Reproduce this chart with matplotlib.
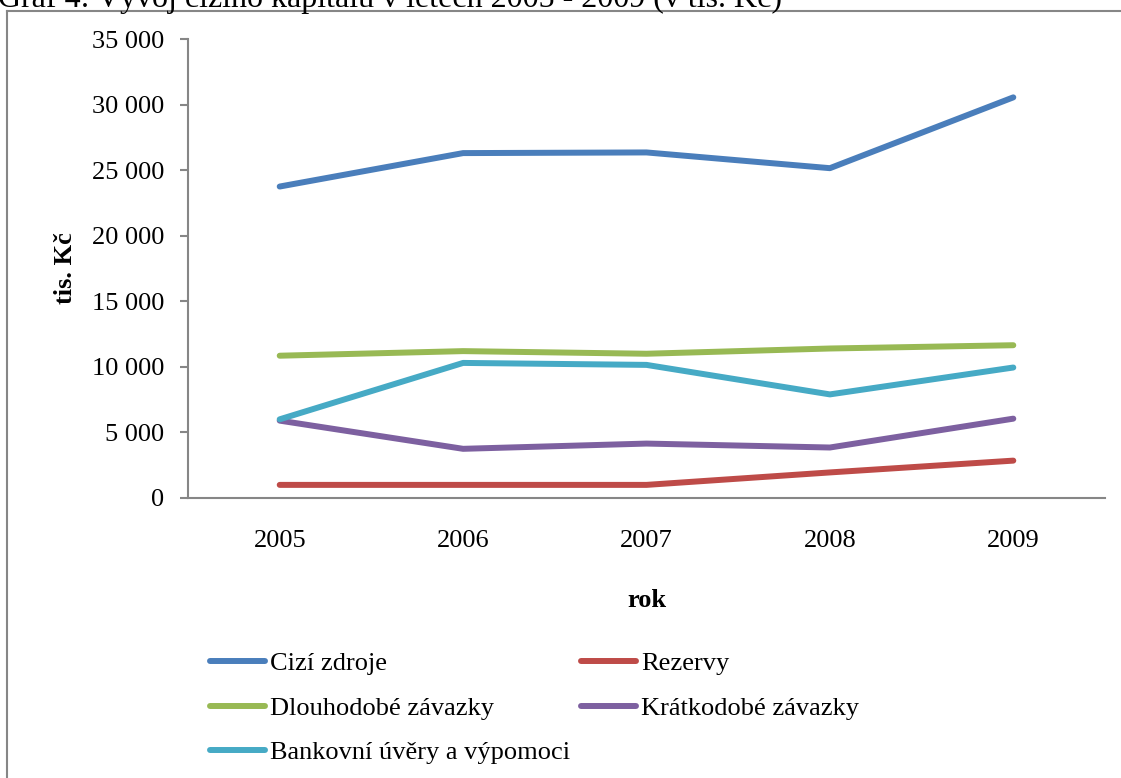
import matplotlib
matplotlib.use("Agg")
import matplotlib.pyplot as plt
from matplotlib.lines import Line2D
from matplotlib.ticker import FuncFormatter

plt.rcParams['font.family'] = ['Liberation Serif', 'DejaVu Serif']

# hodnoty v tis. Kč
roky = ['2005', '2006', '2007', '2008', '2009']
cizi_zdroje = [23750, 26300, 26350, 25150, 30550]
rezervy = [1000, 1000, 1000, 1950, 2850]
dlouhodobe = [10850, 11200, 11000, 11400, 11650]
kratkodobe = [5900, 3750, 4150, 3850, 6050]
bankovni = [6000, 10300, 10150, 7900, 9950]

W, H = 1121, 778
fig = plt.figure(figsize=(W / 100, H / 100), dpi=100)
ax = fig.add_axes([188 / W, 1 - 498 / H, (1105 - 188) / W, (498 - 39) / H])

x = range(len(roky))
lw = 4.3
styl = dict(lw=lw, solid_capstyle='round', solid_joinstyle='round')
h1, = ax.plot(x, cizi_zdroje, color='#4A7EBB', **styl)
h2, = ax.plot(x, rezervy, color='#BE4B48', **styl)
h3, = ax.plot(x, dlouhodobe, color='#98B954', **styl)
h4, = ax.plot(x, kratkodobe, color='#7D60A0', **styl)
h5, = ax.plot(x, bankovni, color='#46AAC5', **styl)

ax.set_xlim(-0.5, len(roky) - 0.5)
ax.set_ylim(0, 35000)
ax.set_yticks(range(0, 35001, 5000))
ax.yaxis.set_major_formatter(FuncFormatter(lambda v, p: f"{int(v):,}".replace(',', ' ')))
ax.set_xticks(list(x))
ax.set_xticklabels(roky)

for s in ['top', 'right']:
    ax.spines[s].set_visible(False)
for s in ['left', 'bottom']:
    ax.spines[s].set_color('#868686')
    ax.spines[s].set_linewidth(1.5)
ax.tick_params(axis='y', length=6, width=1.5, color='#868686', pad=11, labelsize=19)
ax.tick_params(axis='x', length=0, pad=23, labelsize=19)

ax.set_xlabel('rok', fontsize=19, fontweight='bold', labelpad=27)
ax.set_ylabel('tis. Kč', fontsize=19, fontweight='bold', labelpad=11)

leg = fig.legend([h1, h3, h5, h2, h4],
                 ['Cizí zdroje', 'Dlouhodobé závazky', 'Bankovní úvěry a výpomoci',
                  'Rezervy', 'Krátkodobé závazky'],
                 ncol=2, frameon=False, fontsize=19,
                 loc='upper left', bbox_to_anchor=(210 / W, 1 - 652 / H),
                 handlelength=2.08, handletextpad=0.2, labelspacing=0.79,
                 columnspacing=0.4, borderpad=0, borderaxespad=0)

# rámeček grafu
fig.add_artist(Line2D([7 / W, 1], [1 - 11 / H, 1 - 11 / H], color='#868686', lw=1.5))
fig.add_artist(Line2D([7 / W, 7 / W], [0, 1 - 11 / H], color='#868686', lw=1.5))

fig.text(-2 / W, 1 - 7 / H, 'Graf 4: Vývoj cizího kapitálu v letech 2005 - 2009 (v tis. Kč)',
         fontsize=23, ha='left', va='baseline')

fig.savefig('out.png', dpi=100)
